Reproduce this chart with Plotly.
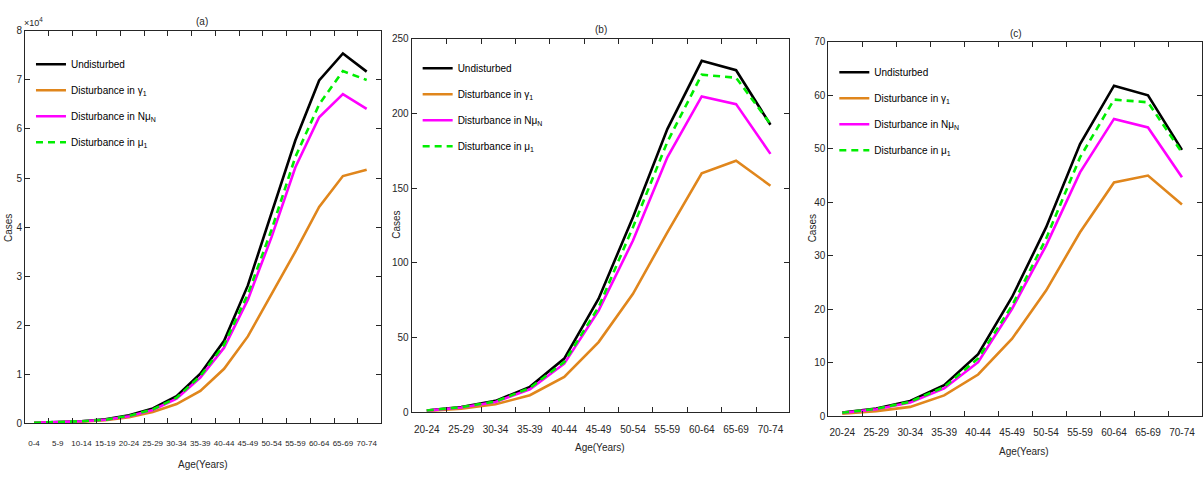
import plotly.graph_objects as go

W, H = 1203, 477

ages_a = ["0-4", "5-9", "10-14", "15-19", "20-24", "25-29", "30-34", "35-39",
          "40-44", "45-49", "50-54", "55-59", "60-64", "65-69", "70-74"]
ages_bc = ["20-24", "25-29", "30-34", "35-39", "40-44", "45-49", "50-54",
           "55-59", "60-64", "65-69", "70-74"]

# Panel (a): cases (values read in units of 1e4)
a_undisturbed = [0.01, 0.02, 0.04, 0.08, 0.16, 0.30, 0.55, 1.01, 1.68, 2.81, 4.28, 5.77, 6.99, 7.54, 7.17]
a_gamma1 = [0.01, 0.02, 0.03, 0.06, 0.12, 0.23, 0.39, 0.66, 1.11, 1.77, 2.62, 3.50, 4.41, 5.04, 5.17]
a_nmun = [0.01, 0.02, 0.04, 0.07, 0.14, 0.27, 0.50, 0.93, 1.54, 2.52, 3.80, 5.22, 6.24, 6.71, 6.41]
a_mu1 = [0.01, 0.02, 0.04, 0.07, 0.15, 0.28, 0.52, 0.96, 1.60, 2.63, 3.95, 5.43, 6.50, 7.18, 7.00]

# Panel (b)
b_undisturbed = [1.2, 3.5, 7.6, 17.0, 35.9, 76.0, 130.6, 189.6, 235.3, 229.0, 192.5]
b_gamma1 = [0.8, 2.4, 5.3, 11.4, 23.6, 47.0, 79.3, 120.5, 160.0, 168.4, 151.7]
b_nmun = [1.1, 3.2, 6.9, 15.4, 32.5, 68.0, 115.0, 170.7, 211.5, 206.3, 173.0]
b_mu1 = [1.2, 3.4, 7.2, 16.2, 33.6, 70.4, 123.9, 181.0, 226.0, 224.0, 193.0]

# Panel (c)
c_undisturbed = [0.7, 1.45, 2.86, 5.8, 11.6, 22.3, 35.3, 50.9, 61.8, 60.0, 49.8]
c_gamma1 = [0.45, 0.95, 1.75, 3.9, 7.8, 14.5, 23.5, 34.4, 43.7, 45.0, 39.6]
c_nmun = [0.62, 1.3, 2.55, 5.2, 10.1, 20.1, 31.9, 45.6, 55.6, 54.0, 44.7]
c_mu1 = [0.65, 1.38, 2.7, 5.45, 10.8, 20.7, 33.2, 48.4, 59.2, 58.7, 49.3]

series_names = ["Undisturbed", "Disturbance in γ<sub>1</sub>",
                "Disturbance in Nμ<sub>N</sub>", "Disturbance in μ<sub>1</sub>"]
a_yticks = [0, 1, 2, 3, 4, 5, 6, 7, 8]
b_yticks = [0, 50, 100, 150, 200, 250]
c_yticks = [0, 10, 20, 30, 40, 50, 60, 70]

FONT = "Liberation Sans, Arial, sans-serif"
AX = "#262626"
colors = ["#000000", "#E0861C", "#FF00FF", "#00EE00"]
dashes = ["solid", "solid", "solid", "7px,5px"]

# empirically the drawn paper spans pixel rows 5..472
Y0, YH = 5.0, 467.0

def px_x(p):
    return p / W

def px_y(p):
    return 1 - (p - Y0) / YH

fig = go.Figure()

panels = [
    dict(cats=ages_a, data=[[v * 1e4 for v in s] for s in (a_undisturbed, a_gamma1, a_nmun, a_mu1)],
         xpx=(25, 381), ypx=(30, 424), xr=(-0.38, 14.59), tickoff=0.63, xfs=8, xso=14,
         yr=(0, 8e4), yt=[v * 1e4 for v in a_yticks], ytt=[str(v) for v in a_yticks],
         legend="legend", leg_xy=(31, 49)),
    dict(cats=ages_bc, data=[b_undisturbed, b_gamma1, b_nmun, b_mu1],
         xpx=(412, 790), ypx=(38, 413), xr=(-0.44, 10.55), tickoff=0.58, xfs=10, xso=10,
         yr=(0, 250), yt=b_yticks, ytt=[str(v) for v in b_yticks],
         legend="legend2", leg_xy=(418, 53)),
    dict(cats=ages_bc, data=[c_undisturbed, c_gamma1, c_nmun, c_mu1],
         xpx=(829, 1203), ypx=(41, 417), xr=(-0.41, 10.59), tickoff=0.59, xfs=10, xso=9,
         yr=(0, 70), yt=c_yticks, ytt=[str(v) for v in c_yticks],
         legend="legend3", leg_xy=(835, 57)),
]

layout = dict(width=W, height=H, margin=dict(l=0, r=0, t=0, b=0),
              paper_bgcolor="white", plot_bgcolor="white",
              font=dict(family=FONT, size=10, color=AX), showlegend=True)

for k, p in enumerate(panels):
    n = k + 1
    xa = "x" if n == 1 else f"x{n}"
    ya = "y" if n == 1 else f"y{n}"
    xa_lab = f"x{n + 3}"
    xs = list(range(len(p["cats"])))
    for j in range(4):
        fig.add_trace(go.Scatter(
            x=xs, y=p["data"][j], mode="lines", name=series_names[j],
            line=dict(color=colors[j], width=2.6, dash=dashes[j]),
            xaxis=xa, yaxis=ya, legend=p["legend"], legendgroup=f"{n}-{j}",
            hoverinfo="skip"))
    # invisible trace so the label axis is drawn
    fig.add_trace(go.Scatter(x=xs, y=p["data"][0], mode="lines",
                             line=dict(width=0, color="rgba(0,0,0,0)"),
                             xaxis=xa_lab, yaxis=ya, showlegend=False, hoverinfo="skip"))
    xkey = "xaxis" if n == 1 else f"xaxis{n}"
    ykey = "yaxis" if n == 1 else f"yaxis{n}"
    dom = [px_x(p["xpx"][0]), px_x(p["xpx"][1])]
    layout[xkey] = dict(
        domain=dom, anchor=ya,
        range=list(p["xr"]), tickmode="array",
        tickvals=[i + p["tickoff"] for i in xs[:-1]],
        showticklabels=False, ticks="inside", ticklen=5, tickcolor=AX,
        showline=True, linecolor=AX, linewidth=1, mirror="ticks",
        showgrid=False, zeroline=False,
    )
    layout[f"xaxis{n + 3}"] = dict(
        domain=dom, anchor=ya, overlaying=xa, side="bottom",
        range=list(p["xr"]), tickmode="array", tickvals=xs, ticktext=p["cats"],
        ticks="", showline=False, showgrid=False, zeroline=False, tickangle=0,
        ticklabelstandoff=p["xso"], tickfont=dict(size=p["xfs"], color=AX),
    )
    layout[ykey] = dict(
        domain=[px_y(p["ypx"][1]), px_y(p["ypx"][0])], anchor=xa,
        range=list(p["yr"]), tickmode="array", tickvals=p["yt"], ticktext=p["ytt"],
        ticks="inside", ticklen=5, tickcolor=AX, showline=True, linecolor=AX,
        linewidth=1, mirror="ticks", showgrid=False, zeroline=False,
        tickfont=dict(size=10, color=AX),
    )
    layout[p["legend"]] = dict(
        x=px_x(p["leg_xy"][0]), y=px_y(p["leg_xy"][1]), xanchor="left", yanchor="top",
        bgcolor="rgba(0,0,0,0)", borderwidth=0, font=dict(size=10, color="#000000"),
        tracegroupgap=7, itemwidth=30, traceorder="grouped")

ann = []
def add_text(txt, xp, yp, size=10, angle=0):
    ann.append(dict(text=txt, x=px_x(xp), y=px_y(yp), xref="paper", yref="paper",
                    showarrow=False, textangle=angle, font=dict(size=size, color=AX),
                    xanchor="center", yanchor="middle"))

add_text("(a)", 202, 21)
add_text("(b)", 602, 29)
add_text("(c)", 1017, 33)
add_text("×10<sup>4</sup>", 34, 21, size=9)
add_text("Cases", 8, 228, angle=-90)
add_text("Cases", 396, 225, angle=-90)
add_text("Cases", 813, 228, angle=-90)
add_text("Age(Years)", 203, 465)
add_text("Age(Years)", 600, 448)
add_text("Age(Years)", 1025, 452)
layout["annotations"] = ann

fig.update_layout(**layout)
fig.write_html("out.html", config={"displayModeBar": False},
               post_script="document.body.style.margin='0';document.body.style.overflow='hidden';")
